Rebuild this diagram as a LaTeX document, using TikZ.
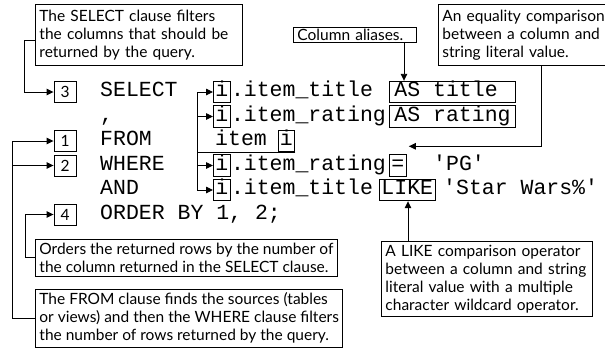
\documentclass[tikz,border=0pt]{standalone}
\usepackage{fontspec}
\newfontfamily\latof{Lato}
\newfontfamily\monof{Liberation Mono}[WordSpace={1,0,0}]
\usetikzlibrary{arrows.meta,calc}
\newcommand\notesize{\fontsize{15.5}{18}\selectfont}
\newcommand\codesize{\fontsize{21.5}{25}\selectfont}
\newcommand\sq{\textquotesingle}
\newcommand\keepln[1]{\mbox{#1}}
\begin{document}
\begin{tikzpicture}[x=1pt,y=-1pt,
  conn/.style={line width=0.9pt},
  arr/.style={conn,-{Triangle[length=7pt,width=6.5pt]}},
  note/.style={draw,line width=0.9pt,font=\latof\notesize,align=left,anchor=north west,inner xsep=4pt,inner ysep=3.5pt},
  numbox/.style={draw,line width=0.9pt,font=\latof\notesize,minimum width=22pt,minimum height=21pt,inner sep=0pt},
  code/.style={font=\monof\codesize,inner xsep=0pt,inner ysep=1.25pt,text height=14pt,text depth=5pt,anchor=west},
  cbox/.style={code,draw,line width=0.9pt,inner xsep=2pt},
]
\useasboundingbox (0,0) rectangle (605,354);
\fill[white] (0,0) rectangle (605,354);
\clip (0,0) rectangle (605,354);
% rows
\def\RA{92}\def\RB{116.5}\def\RC{141}\def\RD{165.5}\def\RE{190}\def\RF{214.5}
% notes
\node[note,text width=199pt,minimum height=61pt] (nA) at (35,4) {\keepln{The SELECT clause filters}\\\keepln{the columns that should be}\\\keepln{returned by the query.}};
\node[note,text width=115pt,inner ysep=1.5pt] (nAlias) at (293,27) {Column aliases.};
\node[note,text width=190pt,minimum height=61pt] (nEq) at (438,4) {\keepln{An equality comparison}\\\keepln{between a column and}\\\keepln{string literal value.}};
\node[note,text width=203pt] (nLike) at (381,241) {\keepln{A LIKE comparison operator}\\\keepln{between a column and string}\\\keepln{literal value with a multiple}\\\keepln{character wildcard operator.}};
\node[note] (nOrder) at (35,239) {Orders the returned rows by the number of\\the column returned in the SELECT clause.};
\node[note] (nFrom) at (35,289) {The FROM clause finds the sources (tables\\or views) and then the WHERE clause filters\\the number of rows returned by the query.};
% number boxes
\node[numbox] (n3) at (65,\RA) {3};
\node[numbox] (n1) at (65,\RC) {1};
\node[numbox] (n2) at (65,\RD) {2};
\node[numbox] (n4) at (65,\RF) {4};
% column 1
\node[code] (kSel) at (100,\RA) {SELECT};
\node[code] (kCom) at (100,\RB) {,};
\node[code] (kFrom) at (100,\RC) {FROM};
\node[code] (kWhere) at (100,\RD) {WHERE};
\node[code] (kAnd) at (100,\RE) {AND};
\node[code] (kOrder) at (100,\RF) {ORDER BY 1, 2;};
% column 2
\node[cbox] (i1) at (213,\RA) {i};
\node[code] (t1) at (i1.east) {.item\_title};
\node[cbox,inner xsep=5pt] (as1) at (389,\RA) {\makebox[116pt][l]{AS title}};
\node[cbox] (i2) at (213,\RB) {i};
\node[code] (t2) at (i2.east) {.item\_rating};
\node[cbox,inner xsep=5pt] (as2) at (389,\RB) {\makebox[116pt][l]{AS rating}};
\node[code] (t3) at (215,\RC) {item};
\node[cbox] (i3) at (277.5,\RC) {i};
\node[cbox] (i4) at (213,\RD) {i};
\node[code] (t4) at (i4.east) {.item\_rating};
\node[cbox] (eq) at (389,\RD) {=};
\node[code] (pg) at (433,\RD) {\sq PG\sq};
\node[cbox] (i5) at (213,\RE) {i};
\node[code] (t5) at (i5.east) {.item\_title};
\node[cbox] (like) at (379,\RE) {LIKE};
\node[code] (sw) at (443,\RE) {\sq Star Wars\%\sq};
% helper coordinates
\coordinate (vx) at (197,0);
\coordinate (asx) at (404,0);
\coordinate (eqx) at (541,0);
\coordinate (likex) at (408,0);
\coordinate (eqtip) at ($(eq.north east)+(2,-8)$);
% connectors
\draw[arr] ($(nA.west)+(0,5)$) -- ++(-11,0) |- (n3.west);
\draw[arr] (nOrder.west) -- ++(-10,0) |- (n4.west);
\draw[arr] (nFrom.west) -- ++(-23,0) coordinate (fl) |- (n1.west);
\draw[arr] (fl |- n2.west) -- (n2.west);
\draw[arr] (nAlias.south -| asx) -- (as1.north -| asx);
\draw[arr] (nEq.south -| eqx) |- (eqtip);
\draw[arr] (nLike.north -| likex) -- (like.south -| likex);
\draw[conn] (i3.south east) -- (i3.south -| vx);
\draw[arr] (i3.south -| vx) |- (i1.west);
\draw[arr] (i3.south -| vx) |- (i5.west);
\draw[arr] (vx |- i2.west) -- (i2.west);
\draw[arr] (vx |- i4.west) -- (i4.west);
\end{tikzpicture}
\end{document}
